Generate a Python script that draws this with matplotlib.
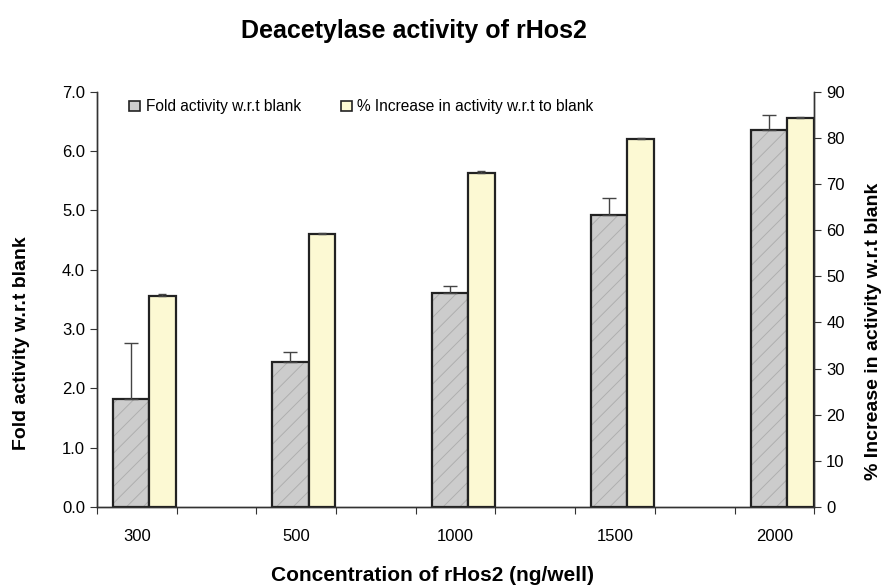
import matplotlib.pyplot as plt
from matplotlib.patches import Patch
import numpy as np

plt.rcParams['font.family'] = ['Liberation Sans', 'DejaVu Sans']
plt.rcParams['hatch.linewidth'] = 0.7

# dados
concentrations = ['300', '500', '1000', '1500', '2000']
fold_activity = [1.83, 2.45, 3.60, 4.92, 6.36]
fold_err = [0.93, 0.17, 0.13, 0.29, 0.25]
pct_increase = [45.8, 59.1, 72.4, 79.7, 84.3]
pct_err = [0.3, 0.3, 0.3, 0.3, 0.3]

gray = '#CCCCCC'
yellow = '#FCF9D3'

fig = plt.figure(figsize=(8.89, 5.87), dpi=100)
ax = fig.add_axes([0.109, 0.136, 0.807, 0.708])
ax2 = ax.twinx()

# posições das categorias (com categorias vazias entre elas)
x = np.arange(len(concentrations)) * 2

# barras cinzentas (eixo esquerdo)
ax.bar(x - 0.30, fold_activity, width=0.455, align='edge', color=gray,
       edgecolor='#AFAFAF', hatch='//', linewidth=0, zorder=2)
ax.bar(x - 0.30, fold_activity, width=0.455, align='edge', fill=False,
       edgecolor='#222222', linewidth=1.6, zorder=3)
ax.errorbar(x - 0.30 + 0.455 / 2, fold_activity,
            yerr=[np.zeros(len(fold_err)), fold_err], fmt='none',
            ecolor='#444444', elinewidth=1, capsize=5, capthick=1, zorder=4)

# barras amarelas (eixo direito)
ax2.bar(x + 0.155, pct_increase, width=0.335, align='edge', color=yellow,
        edgecolor='#222222', linewidth=1.6, zorder=3)
ax2.errorbar(x + 0.155 + 0.335 / 2, pct_increase,
             yerr=[np.zeros(len(pct_err)), pct_err], fmt='none',
             ecolor='#444444', elinewidth=1, capsize=3, capthick=1, zorder=4)

# eixos
ax.set_xlim(-0.5, 8.5)
ax.set_ylim(0, 7)
ax2.set_ylim(0, 90)
ax.set_yticks(np.arange(0, 7.1, 1.0))
ax.set_yticklabels([f'{v:.1f}' for v in np.arange(0, 7.1, 1.0)])
ax2.set_yticks(np.arange(0, 91, 10))

ax.set_xticks(np.arange(-0.5, 8.6, 1.0))
ax.set_xticklabels([])
ax.set_xticks(x, minor=True)
ax.set_xticklabels(concentrations, minor=True)
ax.tick_params(axis='x', which='minor', length=0, pad=16, labelsize=12)
ax.tick_params(axis='x', which='major', length=5, direction='out', color='#333333')
ax.tick_params(axis='y', length=5, direction='out', labelsize=12, color='#333333')
ax2.tick_params(axis='y', length=5, direction='out', labelsize=12, color='#333333')

for a in (ax, ax2):
    a.spines['top'].set_visible(False)
    for s in ('left', 'right', 'bottom'):
        a.spines[s].set_color('#333333')
        a.spines[s].set_linewidth(1)

# legenda
handles = [Patch(facecolor=gray, edgecolor='#222222', linewidth=1.2),
           Patch(facecolor=yellow, edgecolor='#222222', linewidth=1.2)]
labels = ['Fold activity w.r.t blank', '% Increase in activity w.r.t to blank']
ax.legend(handles, labels, loc='center left', bbox_to_anchor=(0.045, 0.963),
          ncol=2, frameon=False, fontsize=11.2, handlelength=0.7,
          handleheight=0.7, handletextpad=0.35, columnspacing=2.6,
          borderaxespad=0, borderpad=0)

# títulos
fig.text(0.466, 0.948, 'Deacetylase activity of rHos2', ha='center', va='center',
         fontsize=18, fontweight='bold')
fig.text(0.486, 0.02, 'Concentration of rHos2 (ng/well)', ha='center', va='center',
         fontsize=15, fontweight='bold')
fig.text(0.024, 1 - 343 / 587, 'Fold activity w.r.t blank', rotation=90,
         ha='center', va='center', fontsize=14, fontweight='bold')
fig.text(0.983, 1 - 331 / 587, '% Increase in activity w.r.t blank', rotation=90,
         ha='center', va='center', fontsize=14, fontweight='bold')

plt.savefig('out.png', dpi=100)
